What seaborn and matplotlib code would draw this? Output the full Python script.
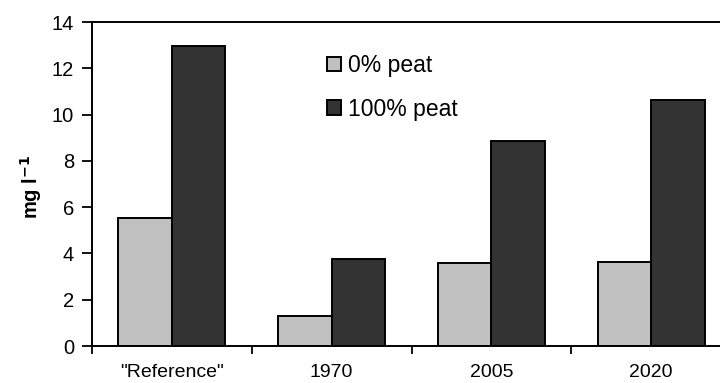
import matplotlib
matplotlib.use("Agg")
import matplotlib.pyplot as plt
import seaborn as sns
import pandas as pd
from matplotlib.ticker import FixedLocator

# Concentrations (mg l-1) per scenario and peat fraction
scenarios = ['"Reference"', "1970", "2005", "2020"]
peat_0 = [5.55, 1.3, 3.6, 3.65]
peat_100 = [12.95, 3.75, 8.85, 10.65]
series_labels = ["0% peat", "100% peat"]
y_ticks = [0, 2, 4, 6, 8, 10, 12, 14]

df = pd.DataFrame({
    "scenario": scenarios * 2,
    "value": peat_0 + peat_100,
    "peat": [series_labels[0]] * len(scenarios) + [series_labels[1]] * len(scenarios),
})

sns.set_theme(style="white")
plt.rcParams["font.family"] = ["Liberation Sans", "DejaVu Sans"]
plt.rcParams["text.color"] = "black"

fig = plt.figure(figsize=(7.2, 3.83), dpi=100)
# axes extend past the right edge of the figure, so the right frame is cut off
ax = fig.add_axes([92 / 720, 37 / 383, 639 / 720, 324 / 383])

sns.barplot(
    data=df, x="scenario", y="value", hue="peat", order=scenarios,
    hue_order=series_labels, palette=["#c0c0c0", "#333333"],
    width=0.67, edgecolor="black", linewidth=1.4, saturation=1,
    ax=ax, legend=True,
)

ax.set_ylim(0, 14)
ax.set_xlim(-0.5, len(scenarios) - 0.5)
ax.set_yticks(y_ticks)
ax.set_yticklabels([str(t) for t in y_ticks])

# category dividers as tick marks, names centred between them
ax.xaxis.set_major_locator(FixedLocator([i - 0.5 for i in range(len(scenarios) + 1)]))
ax.xaxis.set_minor_locator(FixedLocator(list(range(len(scenarios)))))
ax.set_xticklabels([""] * (len(scenarios) + 1))
ax.set_xticklabels(scenarios, minor=True)
ax.tick_params(axis="x", which="major", direction="out", length=6, width=1.3,
               color="black", bottom=True)
ax.tick_params(axis="x", which="minor", length=0, pad=13, labelsize=14,
               labelcolor="black")
ax.tick_params(axis="y", direction="out", length=7, width=1.3, color="black",
               left=True, labelsize=14.5, labelcolor="black", pad=6)

for side in ["left", "bottom", "top", "right"]:
    ax.spines[side].set_visible(True)
    ax.spines[side].set_color("black")
    ax.spines[side].set_linewidth(1.4)

ax.set_xlabel("")
ax.set_ylabel("mg l$^{\\mathbf{-1}}$", fontsize=14.5, fontweight="bold", color="black")
ax.yaxis.set_label_coords(-0.075, 0.49)

handles, labels = ax.get_legend_handles_labels()
leg = ax.legend(
    handles, labels, loc="upper left",
    bbox_to_anchor=(327 / 720, 1 - 54 / 383), bbox_transform=fig.transFigure,
    frameon=False, fontsize=16.5, handlelength=0.6, handleheight=0.6,
    handletextpad=0.3, labelspacing=0.9, borderpad=0, borderaxespad=0,
)
for t in leg.get_texts():
    t.set_color("black")

fig.savefig("out.png", dpi=100)
